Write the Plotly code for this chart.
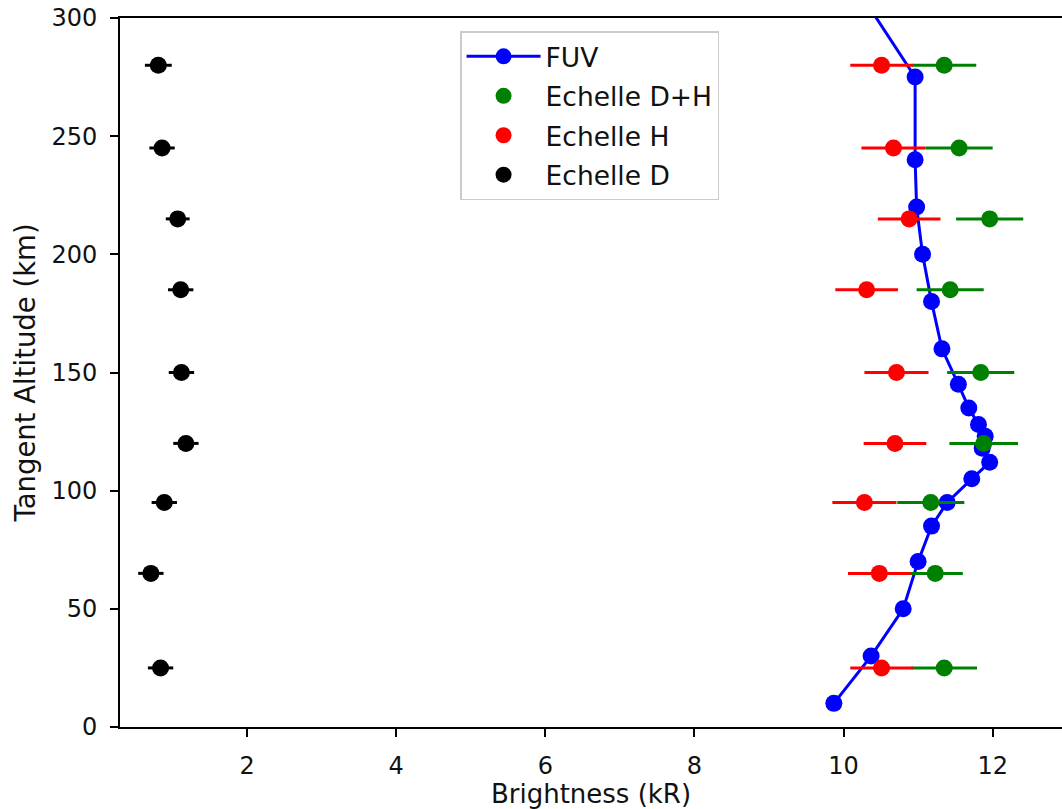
import plotly.graph_objects as go

# FUV profile
fuv_alt = [10, 30, 50, 70, 85, 95, 105, 112, 118, 123, 128, 135, 145, 160, 180, 200, 220, 240, 275, 325]
fuv_bright = [9.87, 10.37, 10.80, 11.00, 11.18, 11.39, 11.72, 11.96, 11.86, 11.90, 11.81, 11.68, 11.54, 11.32, 11.18, 11.06, 10.98, 10.96, 10.96, 9.92]

# Echelle points
ech_alt = [25, 65, 95, 120, 150, 185, 215, 245, 280]
dh_bright = [11.35, 11.23, 11.17, 11.88, 11.84, 11.43, 11.96, 11.55, 11.35]
dh_err = [0.44, 0.37, 0.45, 0.46, 0.45, 0.45, 0.45, 0.45, 0.43]
h_bright = [10.51, 10.48, 10.28, 10.69, 10.71, 10.31, 10.88, 10.67, 10.51]
h_err = [0.42, 0.42, 0.43, 0.42, 0.43, 0.42, 0.42, 0.43, 0.42]
d_bright = [0.84, 0.71, 0.89, 1.18, 1.12, 1.11, 1.07, 0.86, 0.81]
d_err = [0.17, 0.17, 0.17, 0.17, 0.17, 0.17, 0.16, 0.17, 0.18]

x_ticks = [2, 4, 6, 8, 10, 12]
y_ticks = [0, 50, 100, 150, 200, 250, 300]

FONT = "DejaVu Sans"
MS = 17

fig = go.Figure()
fig.add_trace(go.Scatter(
    x=fuv_bright, y=fuv_alt, mode="lines+markers", name="FUV",
    line=dict(color="#0000ff", width=3),
    marker=dict(color="#0000ff", size=MS), legendgroup="a"))
fig.add_trace(go.Scatter(
    x=dh_bright, y=ech_alt, mode="markers", name="Echelle D+H",
    marker=dict(color="#008000", size=MS),
    error_x=dict(type="data", array=dh_err, color="#008000", thickness=3, width=0),
    legendgroup="b"))
fig.add_trace(go.Scatter(
    x=h_bright, y=ech_alt, mode="markers", name="Echelle H",
    marker=dict(color="#ff0000", size=MS),
    error_x=dict(type="data", array=h_err, color="#ff0000", thickness=3, width=0),
    legendgroup="c"))
fig.add_trace(go.Scatter(
    x=d_bright, y=ech_alt, mode="markers", name="Echelle D",
    marker=dict(color="#000000", size=MS),
    error_x=dict(type="data", array=d_err, color="#000000", thickness=3, width=0),
    legendgroup="d"))

axis_common = dict(
    showgrid=False, zeroline=False, showline=True, linecolor="black", linewidth=1.6,
    ticks="outside", ticklen=8, tickwidth=1.6, tickcolor="black",
    tickfont=dict(family=FONT, size=24, color="#111111"),
)

fig.update_layout(
    width=1062, height=809,
    margin=dict(l=120, r=0, t=18, b=82),
    paper_bgcolor="white", plot_bgcolor="white",
    font=dict(family=FONT, color="#111111"),
    showlegend=True,
    legend=dict(
        x=0.361, y=0.9815, xanchor="left", yanchor="top",
        bordercolor="#cccccc", borderwidth=1.5, bgcolor="rgba(255,255,255,0.8)",
        font=dict(family=FONT, size=26.5, color="#111111"),
        tracegroupgap=2, itemwidth=74,
    ),
    xaxis=dict(
        range=[0.296, 12.93], tickvals=x_ticks, ticktext=[str(v) for v in x_ticks],
        mirror=True, ticklabelstandoff=8,
        title=dict(text="Brightness (kR)", font=dict(family=FONT, size=26, color="#111111"), standoff=6),
        **axis_common),
    yaxis=dict(
        range=[0, 300], tickvals=y_ticks, ticktext=[str(v) for v in y_ticks],
        mirror=False, ticklabelstandoff=8,
        title=dict(text="Tangent Altitude (km)", font=dict(family=FONT, size=27.5, color="#111111"), standoff=8),
        **axis_common),
)

fig.write_html(
    "out.html",
    config={"displayModeBar": False},
    post_script="document.body.style.margin='0';document.body.style.overflow='hidden';",
)
